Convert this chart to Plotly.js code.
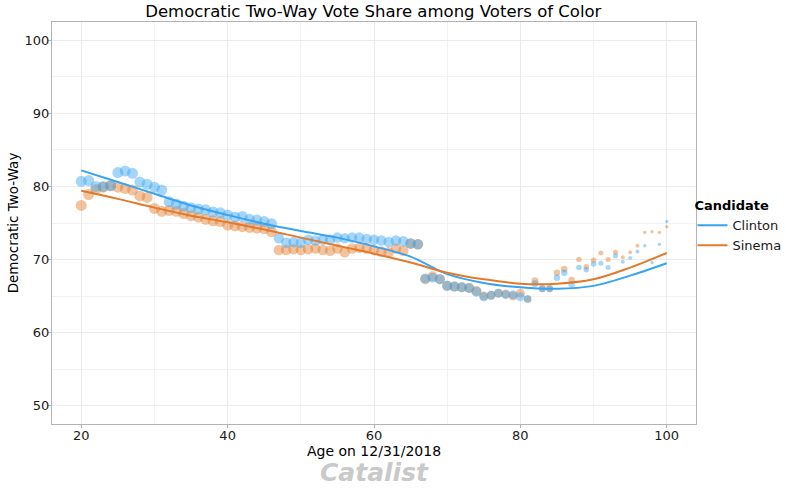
<!DOCTYPE html>
<html>
<head>
<meta charset="utf-8">
<script src="https://cdn.plot.ly/plotly-3.0.1.min.js"></script>
<style>html,body{margin:0;padding:0;background:#fff;}#chart{width:786px;height:488px;}</style>
</head>
<body>
<div id="chart"></div>
<script>
// ---- data ----
const ages = [20,21,22,23,24,25,26,27,28,29,30,31,32,33,34,35,36,37,38,39,40,41,42,43,44,45,46,47,48,49,50,51,52,53,54,55,56,57,58,59,60,61,62,63,64,65,66,67,68,69,70,71,72,73,74,75,76,77,78,79,80,81,82,83,84,85,86,87,88,89,90,91,92,93,94,95,96,97,98,99,100];

const clintonShare = [80.7,80.8,80.0,80.0,80.1,81.9,82.1,81.8,80.6,80.3,79.9,79.5,77.9,77.6,77.3,77.1,76.9,76.8,76.5,76.4,76.1,75.8,75.9,75.5,75.4,75.2,74.9,72.9,72.3,72.4,72.3,72.7,72.6,72.7,72.7,73.0,72.9,73.0,73.0,72.8,72.7,72.6,72.4,72.6,72.5,72.2,72.1,67.4,67.5,67.3,66.4,66.3,66.2,66.1,65.6,64.9,65.1,65.4,65.2,65.2,64.9,64.6,66.7,66.0,66.0,67.5,68.2,66.6,68.9,68.6,69.4,69.5,68.9,70.5,69.7,70.2,71.1,71.9,69.6,72.1,75.2];

const sinemaShare = [77.4,78.9,79.6,79.9,80.1,79.9,79.7,79.5,78.7,78.5,77.0,76.6,76.7,76.6,76.3,76.0,75.8,75.5,75.3,75.2,74.7,74.6,74.5,74.4,74.3,74.2,73.8,71.3,71.3,71.4,71.3,71.4,71.5,71.3,71.2,71.5,71.0,71.5,71.6,71.5,71.3,71.1,71.0,71.5,71.2,72.2,72.1,67.3,67.7,67.3,66.4,66.3,66.2,66.1,65.7,65.0,65.1,65.4,65.3,65.0,65.4,64.6,67.1,66.0,66.0,68.2,68.7,67.2,70.0,69.0,69.9,70.9,70.0,71.0,70.3,71.0,71.9,73.7,73.8,73.7,74.5];

// relative number of voters at each age (read from point area)
const voterWeight = [100,100,100,100,100,100,100,100,100,100,100,100,100,100,100,100,100,100,100,100,100,100,100,100,100,100,100,91,91,91,91,91,91,91,91,91,91,91,91,91,91,91,91,91,91,91,91,83,83,83,83,83,83,83,83,67,67,67,67,67,67,46,40,40,40,35,35,35,25,25,25,21,21,21,13,13,13,10,10,10,10];

// smoothed trend curves
const smoothAges    = [20,25,30,35,40,45,50,55,60,65,70,75,80,85,90,95,100];
const clintonSmooth = [82.2,80.6,79.0,77.4,76.1,74.9,73.9,73.0,71.8,70.4,68.0,66.8,66.2,66.0,66.4,67.8,69.5];
const sinemaSmooth  = [79.4,78.3,77.1,76.0,75.1,74.1,73.0,71.9,70.8,69.6,68.2,67.3,66.7,66.7,67.3,68.9,70.9];

const candidates = ["Clinton","Sinema"];
const xTicks = [20,40,60,80,100];
const yTicks = [50,60,70,80,90,100];

// ---- styling ----
const blue = "#37A3F2";
const orange = "#E37A2B";
const sizes = voterWeight.map(w => 11*Math.sqrt(w/100));

const traces = [
  {x: ages, y: sinemaShare, type: "scatter", mode: "markers", showlegend: false, hoverinfo: "skip",
   marker: {color: orange, opacity: 0.45, size: sizes, line: {width: 0}}},
  {x: ages, y: clintonShare, type: "scatter", mode: "markers", showlegend: false, hoverinfo: "skip",
   marker: {color: blue, opacity: 0.45, size: sizes, line: {width: 0}}},
  {x: smoothAges, y: clintonSmooth, type: "scatter", mode: "lines", name: candidates[0],
   line: {color: blue, width: 2, shape: "spline", smoothing: 1}},
  {x: smoothAges, y: sinemaSmooth, type: "scatter", mode: "lines", name: candidates[1],
   line: {color: orange, width: 2, shape: "spline", smoothing: 1}}
];

const axisCommon = {
  showline: true, mirror: true, linecolor: "#b3b3b3", linewidth: 1,
  showgrid: true, gridcolor: "#ebebeb", gridwidth: 1,
  zeroline: false, ticks: "outside", ticklen: 3, tickcolor: "#b3b3b3",
  tickfont: {family: "DejaVu Sans", size: 13, color: "#1a1a1a"}
};

const layout = {
  width: 786, height: 488,
  paper_bgcolor: "#fff", plot_bgcolor: "#fff",
  margin: {l: 52, r: 90, t: 22, b: 64, autoexpand: false},
  title: {text: "Democratic Two-Way Vote Share among Voters of Color",
          font: {family: "DejaVu Sans", size: 16.5, color: "#000"},
          x: 0.475, xanchor: "center", y: 0.977, yanchor: "middle"},
  xaxis: Object.assign({}, axisCommon, {
    range: [16, 104], tickvals: xTicks, ticktext: xTicks.map(String),
    ticklabelstandoff: -4,
    minor: {dtick: 10, tick0: 0, showgrid: true, gridcolor: "#f2f2f2", gridwidth: 1, ticks: ""},
    title: {text: "Age on 12/31/2018", font: {family: "DejaVu Sans", size: 14, color: "#000"}, standoff: 0}
  }),
  yaxis: Object.assign({}, axisCommon, {
    range: [47.5, 102.5], tickvals: yTicks, ticktext: yTicks.map(String),
    ticklabelstandoff: -4,
    minor: {dtick: 5, tick0: 0, showgrid: true, gridcolor: "#f2f2f2", gridwidth: 1, ticks: ""},
    title: {text: "Democratic Two-Way", font: {family: "DejaVu Sans", size: 13.5, color: "#000"}, standoff: 2}
  }),
  legend: {
    xref: "container", yref: "container",
    x: 0.881, xanchor: "left", y: 0.535, yanchor: "middle",
    title: {text: "<b>Candidate</b>", font: {family: "DejaVu Sans", size: 13, color: "#000"}},
    font: {family: "DejaVu Sans", size: 13, color: "#1a1a1a"},
    itemwidth: 30, tracegroupgap: 0, bgcolor: "rgba(0,0,0,0)"
  },
  annotations: [{
    text: "Catalist", xref: "paper", yref: "paper", x: 0.501, y: -0.12,
    xanchor: "center", yanchor: "middle", showarrow: false,
    font: {family: "DejaVu Sans", size: 25, color: "#c9c9c9", weight: "bold", style: "italic"}
  }]
};

Plotly.newPlot("chart", traces, layout, {displayModeBar: false, staticPlot: true});
</script>
</body>
</html>
